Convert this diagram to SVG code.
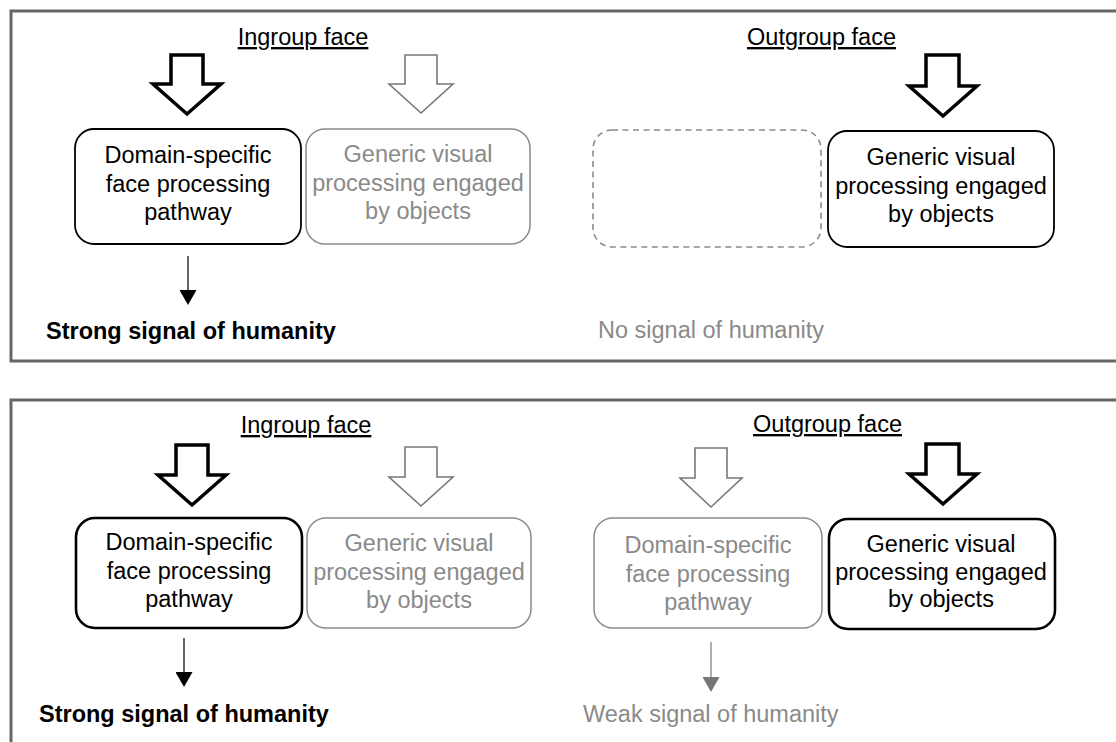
<svg xmlns="http://www.w3.org/2000/svg" width="1116" height="742" viewBox="0 0 1116 742">
  <style>
    text { font-family: "Liberation Sans", Arial, sans-serif; font-size: 23.5px; }
    .dark { fill: #000; }
    .dim { fill: #8a8a8a; }
    .mid { text-anchor: middle; }
    .head { text-decoration: underline; text-anchor: middle; fill: #000; }
    .bold { font-weight: bold; fill: #000; }
    .panel { fill: #fff; stroke: #666; stroke-width: 3; }
    .box-on { fill: #fff; stroke: #000; stroke-width: 1.8; }
    .box-on-thick { fill: #fff; stroke: #000; stroke-width: 2.6; }
    .box-off { fill: #fff; stroke: #8a8a8a; stroke-width: 1.5; }
    .box-none { fill: #fff; stroke: #8a8a8a; stroke-width: 1.6; stroke-dasharray: 6 4.5; }
    .block-on { fill: #fff; stroke: #000; stroke-width: 3.5; stroke-linejoin: miter; }
    .block-off { fill: #fff; stroke: #777; stroke-width: 1.6; stroke-linejoin: miter; }
    .thin-on { stroke: #000; stroke-width: 1.2; }
    .thin-off { stroke: #777; stroke-width: 1.2; }
  </style>
  <defs>
    <marker id="tipDark" viewBox="0 0 15 17" refX="0" refY="8.5" markerWidth="15" markerHeight="17" markerUnits="userSpaceOnUse" orient="auto">
      <path d="M0,0 L15,8.5 L0,17 Z" fill="#000"/>
    </marker>
    <marker id="tipGrey" viewBox="0 0 15 17" refX="0" refY="8.5" markerWidth="15" markerHeight="17" markerUnits="userSpaceOnUse" orient="auto">
      <path d="M0,0 L15,8.5 L0,17 Z" fill="#777"/>
    </marker>
  </defs>

  <rect width="1116" height="742" fill="#fff"/>

  <!-- panel frames (open to the right / bottom edge) -->
  <rect class="panel" x="11" y="11" width="1130" height="350"/>
  <rect class="panel" x="11" y="400" width="1130" height="370"/>

  <!-- ===== Upper panel ===== -->
  <g id="top-ingroup-title"><text class="head" x="303" y="45">Ingroup face</text></g>
  <g id="top-outgroup-title"><text class="head" x="821.5" y="45">Outgroup face</text></g>

  <g id="top-domain">
    <rect class="box-on" x="75" y="129" width="226" height="115" rx="19"/>
    <text class="dark mid" x="188" y="163">Domain-specific</text>
    <text class="dark mid" x="188" y="192">face processing</text>
    <text class="dark mid" x="188" y="220">pathway</text>
  </g>
  <g id="top-generic-in">
    <rect class="box-off" x="306" y="129" width="224" height="115" rx="19"/>
    <text class="dim mid" x="418" y="162">Generic visual</text>
    <text class="dim mid" x="418" y="191">processing engaged</text>
    <text class="dim mid" x="418" y="219">by objects</text>
  </g>
  <g id="top-empty">
    <rect class="box-none" x="593" y="130" width="228" height="117" rx="19"/>
  </g>
  <g id="top-generic-out">
    <rect class="box-on" x="828" y="131" width="226" height="116" rx="19"/>
    <text class="dark mid" x="941" y="165">Generic visual</text>
    <text class="dark mid" x="941" y="194">processing engaged</text>
    <text class="dark mid" x="941" y="222">by objects</text>
  </g>
  <g id="top-strong"><text class="bold" x="46" y="339">Strong signal of humanity</text></g>
  <g id="top-none"><text class="dim" x="598" y="338">No signal of humanity</text></g>

  <!-- ===== Lower panel ===== -->
  <g id="bottom-ingroup-title"><text class="head" x="306" y="433">Ingroup face</text></g>
  <g id="bottom-outgroup-title"><text class="head" x="827.5" y="432">Outgroup face</text></g>

  <g id="bottom-domain-in">
    <rect class="box-on-thick" x="76" y="518" width="226" height="110" rx="19"/>
    <text class="dark mid" x="189" y="550">Domain-specific</text>
    <text class="dark mid" x="189" y="579">face processing</text>
    <text class="dark mid" x="189" y="607">pathway</text>
  </g>
  <g id="bottom-generic-in">
    <rect class="box-off" x="307" y="518" width="224" height="110" rx="19"/>
    <text class="dim mid" x="419" y="551">Generic visual</text>
    <text class="dim mid" x="419" y="580">processing engaged</text>
    <text class="dim mid" x="419" y="608">by objects</text>
  </g>
  <g id="bottom-domain-out">
    <rect class="box-off" x="594" y="518" width="228" height="110" rx="19"/>
    <text class="dim mid" x="708" y="553">Domain-specific</text>
    <text class="dim mid" x="708" y="582">face processing</text>
    <text class="dim mid" x="708" y="610">pathway</text>
  </g>
  <g id="bottom-generic-out">
    <rect class="box-on-thick" x="829" y="519" width="226" height="110" rx="19"/>
    <text class="dark mid" x="941" y="552">Generic visual</text>
    <text class="dark mid" x="941" y="580">processing engaged</text>
    <text class="dark mid" x="941" y="607">by objects</text>
  </g>
  <g id="bottom-strong"><text class="bold" x="39" y="722">Strong signal of humanity</text></g>
  <g id="bottom-weak"><text class="dim" x="583" y="722">Weak signal of humanity</text></g>

  <!-- ===== Connectors ===== -->
  <g id="connectors">
    <!-- block input arrows -->
    <path class="block-on" d="M171,55 H203 V84 H221 L187,114 L153,84 H171 Z"/>
    <path class="block-off" d="M405,55 H437 V84 H453 L421,113 L389,84 H405 Z"/>
    <path class="block-on" d="M926,55 H959 V86 H977 L943,116 L909,86 H926 Z"/>

    <path class="block-on" d="M176,445 H208 V475 H226 L192,505 L158,475 H176 Z"/>
    <path class="block-off" d="M405,447 H437 V477 H453 L421,506 L389,477 H405 Z"/>
    <path class="block-off" d="M695,448 H727 V478 H742 L711,507 L680,478 H695 Z"/>
    <path class="block-on" d="M926,444 H959 V474 H977 L943,504 L909,474 H926 Z"/>

    <!-- output arrows -->
    <line class="thin-on" x1="188" y1="256" x2="188" y2="290" marker-end="url(#tipDark)"/>
    <line class="thin-on" x1="184" y1="638" x2="184" y2="672" marker-end="url(#tipDark)"/>
    <line class="thin-off" x1="711" y1="642" x2="711" y2="677" marker-end="url(#tipGrey)"/>
  </g>
</svg>
